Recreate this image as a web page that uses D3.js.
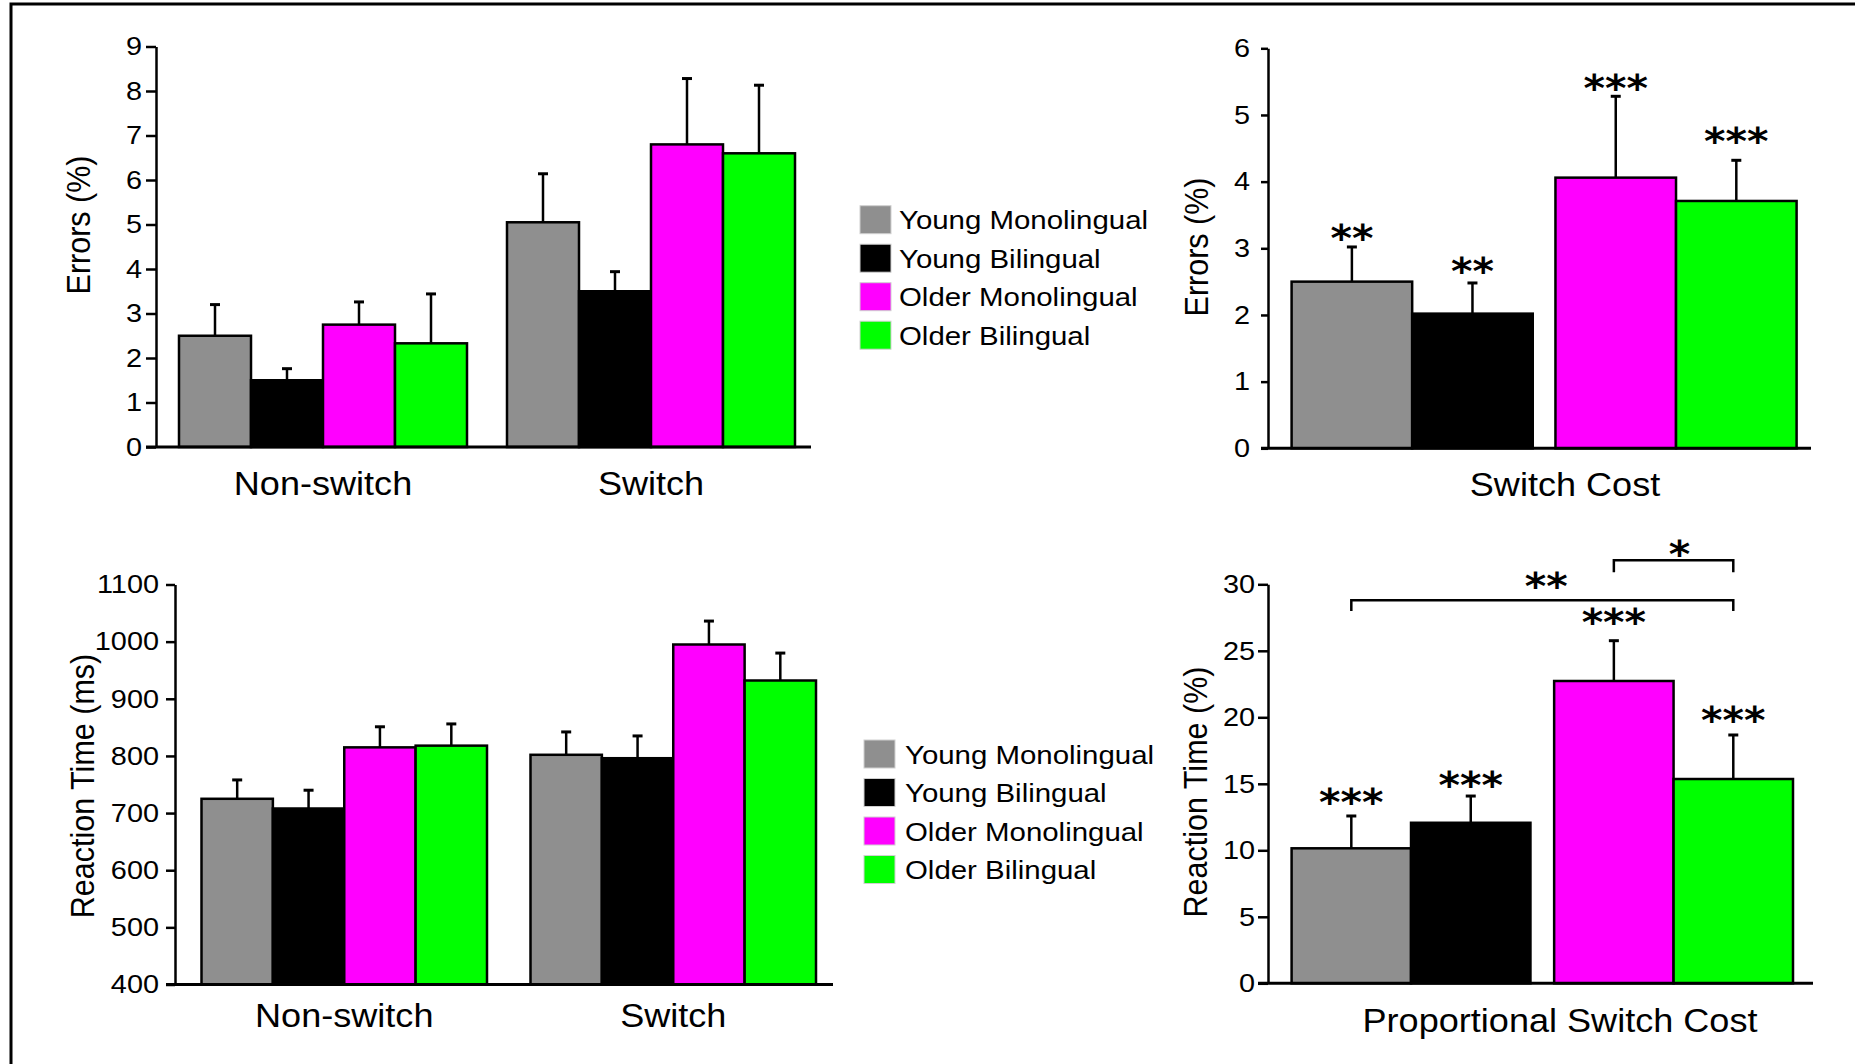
<!DOCTYPE html>
<html>
<head>
<meta charset="utf-8">
<script src="https://cdn.jsdelivr.net/npm/d3@7"></script>
<style>
  html, body { margin: 0; padding: 0; background: #fff; }
  svg { display: block; }
</style>
</head>
<body>
<script>
// groups and colours
const groups = ["Young Monolingual", "Young Bilingual", "Older Monolingual", "Older Bilingual"];
const colors = ["#8f8f8f", "#000000", "#ff00ff", "#00ff00"];
const pairs = ["Young", "Older"];
const conditions = ["Non-switch", "Switch"];

// errors (%) by condition
const errMean = [[2.5, 1.5, 2.75, 2.33], [5.05, 3.5, 6.8, 6.6]];
const errUpper = [[3.2, 1.76, 3.26, 3.44], [6.14, 3.94, 8.28, 8.13]];
const errTicks = [0, 1, 2, 3, 4, 5, 6, 7, 8, 9];

// error switch cost
const costMean = [2.5, 2.02, 4.06, 3.71];
const costUpper = [3.02, 2.48, 5.28, 4.32];
const costStars = ["**", "**", "***", "***"];
const costStarLevel = [3.2, 2.71, 5.45, 4.66];
const costTicks = [0, 1, 2, 3, 4, 5, 6];

// reaction time (ms) by condition
const rtMean = [[725, 708, 815, 818], [802, 796, 995, 932]];
const rtUpper = [[758, 740, 851, 856], [842, 835, 1036, 980]];
const rtTicks = [400, 500, 600, 700, 800, 900, 1000, 1100];

// proportional switch cost (%)
const propMean = [10.15, 12.07, 22.73, 15.36];
const propUpper = [12.58, 14.08, 25.76, 18.67];
const propStars = ["***", "***", "***", "***"];
const propStarLevel = [13.86, 15.16, 27.4, 20.05];
const propTicks = [0, 5, 10, 15, 20, 25, 30];
const propBrackets = [
  { from: 0, to: 3, level: 28.8, drop: 0.8, label: "**", labelLevel: 30.1 },
  { from: 2, to: 3, level: 31.8, drop: 0.9, label: "*", labelLevel: 32.5 }
];

const W = 1855, H = 1064;
const SX = 1.11; // the figure is slightly stretched sideways
const FONT = "'Liberation Sans', Arial, Helvetica, sans-serif";
const STAR_FONT = "'DejaVu Sans', sans-serif";
const STAR_SIZE = 37;

const svg = d3.select("body").append("svg")
  .attr("width", W).attr("height", H)
  .attr("viewBox", [0, 0, W, H]);

svg.append("rect").attr("width", W).attr("height", H).attr("fill", "#fff");

// outer frame (left and top only)
svg.append("path")
  .attr("d", `M11,${H} V4 H${W}`)
  .attr("fill", "none").attr("stroke", "#000").attr("stroke-width", 3);

function stretch(sel, rot) {
  sel.each(function () {
    const t = d3.select(this);
    const x = +t.attr("x") || 0, y = +t.attr("y") || 0;
    t.attr("x", null).attr("y", null)
      .attr("transform", `translate(${x},${y}) scale(${SX},1)` + (rot ? " rotate(-90)" : ""));
  });
}

function label(txt, x, y, size, anchor, rot) {
  const t = svg.append("text")
    .attr("x", x).attr("y", y)
    .attr("font-family", FONT).attr("font-size", size)
    .attr("text-anchor", anchor || "middle")
    .attr("fill", "#000")
    .text(txt);
  stretch(t, rot);
  return t;
}

function yAxis(y, ticks, xPos, size, pad) {
  const g = svg.append("g")
    .attr("transform", `translate(${xPos},0)`)
    .call(d3.axisLeft(y).tickValues(ticks).tickFormat(d => String(d))
      .tickSize(size).tickPadding(pad).tickSizeOuter(0));
  g.select(".domain").attr("stroke", "#000").attr("stroke-width", 2.5);
  g.selectAll(".tick line").attr("stroke", "#000").attr("stroke-width", 2.5);
  g.selectAll(".tick text")
    .attr("font-family", FONT).attr("font-size", 26).attr("fill", "#000");
  stretch(g.selectAll(".tick text"));
}

function xBase(y, v, x1, x2) {
  svg.append("line")
    .attr("x1", x1).attr("x2", x2)
    .attr("y1", y(v)).attr("y2", y(v))
    .attr("stroke", "#000").attr("stroke-width", 3);
}

function drawBars(y, bars) {
  const base = y.domain()[0];
  const g = svg.append("g");
  g.selectAll("rect").data(bars).join("rect")
    .attr("x", d => d.x).attr("width", d => d.w)
    .attr("y", d => y(d.mean)).attr("height", d => y(base) - y(d.mean))
    .attr("fill", d => d.color)
    .attr("stroke", "#000").attr("stroke-width", 2.5);
  g.selectAll("line.err").data(bars).join("line").attr("class", "err")
    .attr("x1", d => d.x + d.w / 2).attr("x2", d => d.x + d.w / 2)
    .attr("y1", d => y(d.mean)).attr("y2", d => y(d.upper))
    .attr("stroke", "#000").attr("stroke-width", 2.5);
  g.selectAll("line.cap").data(bars).join("line").attr("class", "cap")
    .attr("x1", d => d.x + d.w / 2 - 5).attr("x2", d => d.x + d.w / 2 + 5)
    .attr("y1", d => y(d.upper)).attr("y2", d => y(d.upper))
    .attr("stroke", "#000").attr("stroke-width", 3);
}

function stars(txt, x, yPix) {
  const t = svg.append("text")
    .attr("x", x).attr("y", yPix + 0.43 * STAR_SIZE)
    .attr("font-family", STAR_FONT).attr("font-size", STAR_SIZE)
    .attr("font-weight", "bold")
    .attr("text-anchor", "middle").attr("fill", "#000")
    .text(txt);
  stretch(t);
}

function legend(x0, y0, textDx) {
  const g = svg.append("g");
  groups.forEach((name, i) => {
    const yy = y0 + i * 38.5;
    g.append("rect")
      .attr("x", x0).attr("y", yy).attr("width", 31).attr("height", 28)
      .attr("fill", colors[i]).attr("stroke", "#d0d0d0").attr("stroke-width", 1);
    const t = g.append("text")
      .attr("x", x0 + textDx).attr("y", yy + 14 + 9.5)
      .attr("font-family", FONT).attr("font-size", 26.5).attr("fill", "#000")
      .text(name);
    stretch(t);
  });
}

// grouped panel (two conditions x four groups)
function groupedPanel(o) {
  const y = d3.scaleLinear().domain([o.ticks[0], o.ticks[o.ticks.length - 1]]).range(o.yRange);
  const x0 = d3.scaleBand().domain(conditions)
    .range([o.left, o.left + 2 * o.groupW + o.gap])
    .paddingInner(o.gap / (o.groupW + o.gap)).paddingOuter(0);
  const x1 = d3.scaleBand().domain(groups).range([0, x0.bandwidth()]);
  const bars = [];
  conditions.forEach((c, ci) => {
    groups.forEach((gname, gi) => {
      bars.push({
        x: x0(c) + x1(gname), w: x1.bandwidth(), color: colors[gi],
        mean: o.mean[ci][gi], upper: o.upper[ci][gi]
      });
    });
  });
  drawBars(y, bars);
  yAxis(y, o.ticks, o.axisX, o.tickSize, o.pad);
  xBase(y, o.ticks[0], o.axisX - o.tickSize, o.right);
  conditions.forEach(c => label(c, x0(c) + x0.bandwidth() / 2, o.catY, 32.5));
  label(o.yTitle, o.titleX, o.titleY, o.titleSize, "middle", true);
}

// single set of four bars (young pair, older pair)
function pairedPanel(o) {
  const y = d3.scaleLinear().domain([o.ticks[0], o.ticks[o.ticks.length - 1]]).range(o.yRange);
  const xp = d3.scaleBand().domain(pairs).range(o.barRange)
    .paddingInner(o.gap / ((o.barRange[1] - o.barRange[0] - o.gap) / 2 + o.gap)).paddingOuter(0);
  const xi = d3.scaleBand().domain([0, 1]).range([0, xp.bandwidth()]);
  const bars = groups.map((gname, i) => ({
    x: xp(pairs[Math.floor(i / 2)]) + xi(i % 2), w: xi.bandwidth(), color: colors[i],
    mean: o.mean[i], upper: o.upper[i]
  }));
  drawBars(y, bars);
  yAxis(y, o.ticks, o.axisX, o.tickSize, o.pad);
  xBase(y, o.ticks[0], o.axisX - o.tickSize, o.right);
  bars.forEach((b, i) => stars(o.stars[i], b.x + b.w / 2, y(o.starLevel[i])));
  (o.brackets || []).forEach(br => {
    const xa = bars[br.from].x + bars[br.from].w / 2;
    const xb = bars[br.to].x + bars[br.to].w / 2;
    svg.append("path")
      .attr("d", `M${xa},${y(br.level - br.drop)} V${y(br.level)} H${xb} V${y(br.level - br.drop)}`)
      .attr("fill", "none").attr("stroke", "#000").attr("stroke-width", 2.5);
    stars(br.label, (xa + xb) / 2 + (br.label.length === 1 ? 6 : 4), y(br.labelLevel));
  });
  label(o.cat, o.catX, o.catY, 32.5);
  label(o.yTitle, o.titleX, o.titleY, o.titleSize, "middle", true);
}

groupedPanel({
  mean: errMean, upper: errUpper, ticks: errTicks,
  yRange: [447, 46.5], axisX: 156, right: 811, tickSize: 10, pad: 4,
  left: 179, groupW: 288, gap: 40, catY: 495,
  yTitle: "Errors (%)", titleX: 90, titleY: 225, titleSize: 30.5
});

pairedPanel({
  mean: costMean, upper: costUpper, ticks: costTicks,
  stars: costStars, starLevel: costStarLevel,
  yRange: [448.3, 48.3], axisX: 1268, right: 1811, tickSize: 7, pad: 11,
  barRange: [1291.6, 1796.6], gap: 22.7,
  cat: "Switch Cost", catX: 1565, catY: 496,
  yTitle: "Errors (%)", titleX: 1208, titleY: 247, titleSize: 30.5
});

groupedPanel({
  mean: rtMean, upper: rtUpper, ticks: rtTicks,
  yRange: [984.5, 584.5], axisX: 175, right: 833, tickSize: 9, pad: 7,
  left: 201.5, groupW: 285.5, gap: 43.5, catY: 1026.5,
  yTitle: "Reaction Time (ms)", titleX: 94, titleY: 786, titleSize: 30.5
});

pairedPanel({
  mean: propMean, upper: propUpper, ticks: propTicks,
  stars: propStars, starLevel: propStarLevel, brackets: propBrackets,
  yRange: [983.3, 584.3], axisX: 1268, right: 1813, tickSize: 10, pad: 3,
  barRange: [1291.6, 1793], gap: 23.7,
  cat: "Proportional Switch Cost", catX: 1560, catY: 1032,
  yTitle: "Reaction Time (%)", titleX: 1207, titleY: 792, titleSize: 30.5
});

legend(860, 205.7, 39);
legend(864, 740, 41);
</script>
</body>
</html>
